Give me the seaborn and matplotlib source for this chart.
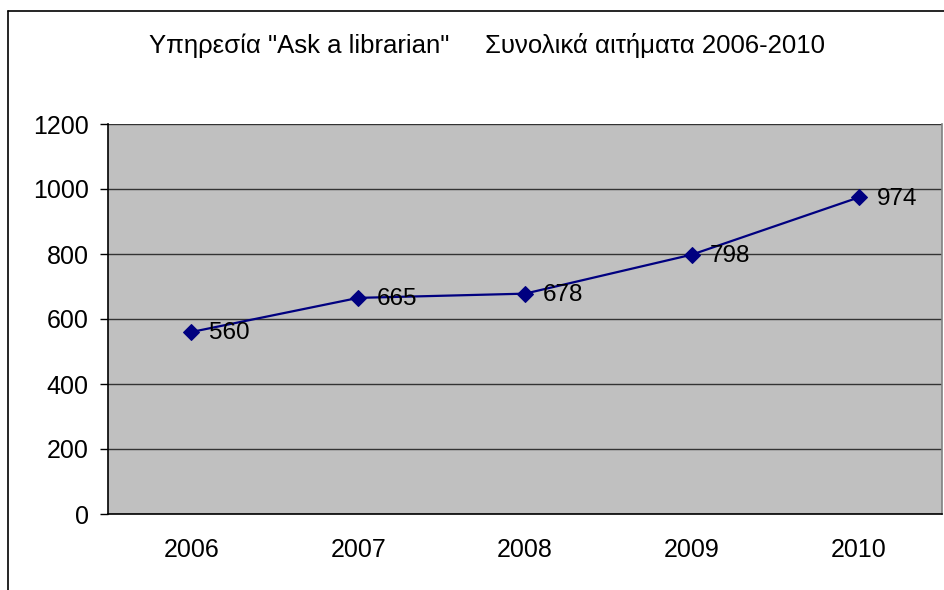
import pandas as pd
import matplotlib
matplotlib.use("Agg")
import matplotlib.pyplot as plt
import seaborn as sns
from matplotlib.lines import Line2D

years = ['2006', '2007', '2008', '2009', '2010']
requests = [560, 665, 678, 798, 974]
y_ticks = [0, 200, 400, 600, 800, 1000, 1200]
title = 'Υπηρεσία "Ask a librarian"     Συνολικά αιτήματα 2006-2010'

df = pd.DataFrame({'Year': years, 'Requests': requests})

sns.set_style("white")
plt.rcParams['font.family'] = ['Liberation Sans', 'DejaVu Sans']
plt.rcParams['text.color'] = 'black'
plt.rcParams['xtick.color'] = 'black'
plt.rcParams['ytick.color'] = 'black'

fig = plt.figure(figsize=(9.45, 5.9), dpi=100)
ax = fig.add_axes([108/945, 1 - 514/590, (942-108)/945, (514-124)/590])
ax.set_facecolor('#C0C0C0')

sns.lineplot(data=df, x='Year', y='Requests', ax=ax, color='#000080',
             linewidth=1.6, marker='D', markersize=8, markeredgecolor='#000080')

for i, v in enumerate(requests):
    ax.annotate(str(v), (i, v), xytext=(13, -1), textcoords='offset points',
                ha='left', va='center', fontsize=17.5, color='black')

ax.set_xlim(-0.5, 4.5)
ax.set_ylim(0, 1200)
ax.set_yticks(y_ticks)
ax.set_yticklabels([str(t) for t in y_ticks], fontsize=18)
ax.set_xticks(range(len(years)))
ax.set_xticklabels(years, fontsize=18)
ax.set_xticks([i - 0.5 for i in range(len(years) + 1)], minor=True)
ax.tick_params(axis='x', which='major', length=0, pad=17)
ax.tick_params(axis='x', which='minor', length=6, width=1, color='black', direction='out')
ax.tick_params(axis='y', length=6, width=1, color='black', direction='out', pad=8, left=True)
ax.set_xlabel('')
ax.set_ylabel('')

ax.grid(axis='y', color='#333333', linewidth=1)
ax.set_axisbelow(True)
for s in ['left', 'bottom']:
    ax.spines[s].set_color('black')
    ax.spines[s].set_linewidth(1.2)
ax.spines['top'].set_visible(False)
ax.spines['right'].set_color('#808080')
ax.spines['right'].set_linewidth(1.2)

fig.text(487/945, 1 - 45/590, title, ha='center', va='center', fontsize=18.5)

# outer chart border (only left and top visible in the crop)
fig.add_artist(Line2D([8/945, 8/945], [0, 1 - 11/590], color='black', linewidth=1.2,
                      transform=fig.transFigure))
fig.add_artist(Line2D([8/945, 1], [1 - 11/590, 1 - 11/590], color='black', linewidth=1.2,
                      transform=fig.transFigure))

fig.savefig('out.png', dpi=100, facecolor='white')
